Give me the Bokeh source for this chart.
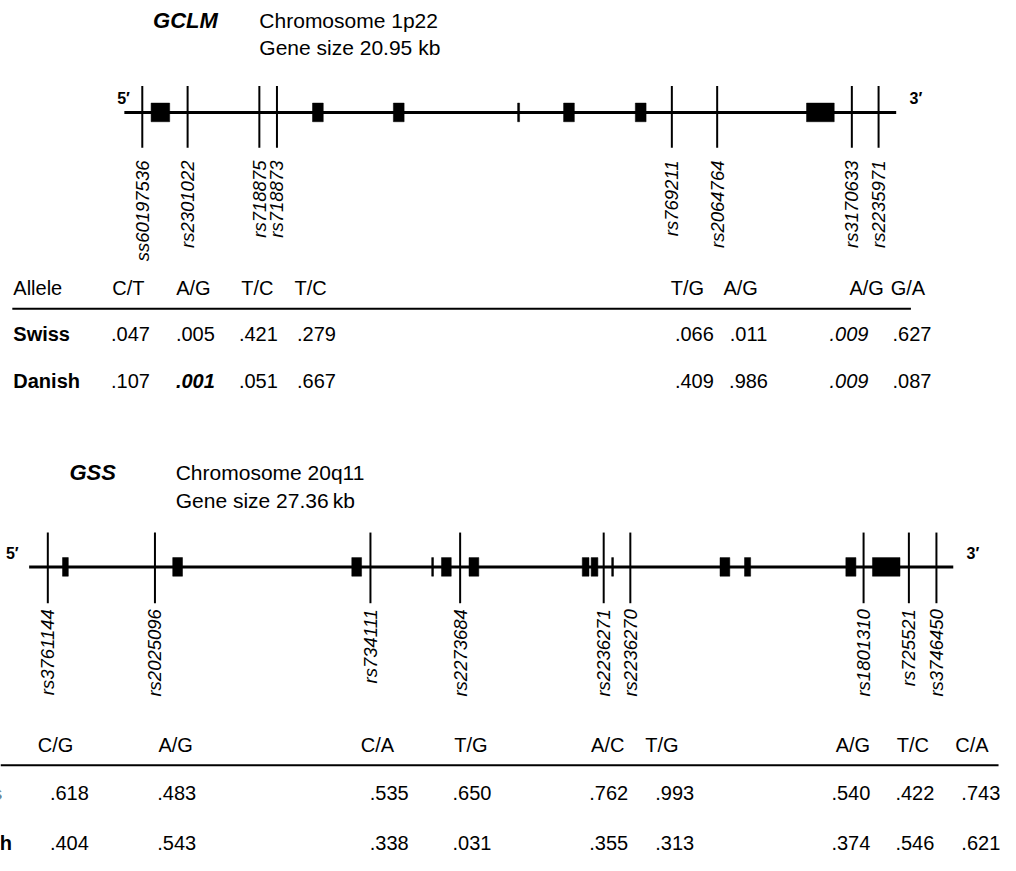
import math
from bokeh.plotting import figure
from bokeh.models import Range1d, ColumnDataSource
from bokeh.layouts import column
from bokeh.embed import file_html
from bokeh.resources import INLINE
from bokeh.core.properties import value

FONT = "Liberation Sans"

# ---------------- GCLM data ----------------
gclm_name = "GCLM"
gclm_chrom = "Chromosome 1p22"
gclm_size = "Gene size 20.95 kb"
gclm_snps = ["ss60197536", "rs2301022", "rs718875", "rs718873",
             "rs769211", "rs2064764", "rs3170633", "rs2235971"]
gclm_snp_kb = [-0.27, 1.12, 3.32, 3.86, 15.97, 17.36, 21.49, 22.31]
gclm_exon_start_kb = [0.00, 4.95, 7.43, 11.24, 12.65, 14.85, 20.10]
gclm_exon_end_kb = [0.57, 5.28, 7.76, 11.30, 12.98, 15.18, 20.95]
gclm_line_kb = [-0.82, 22.85]
gclm_alleles = ["C/T", "A/G", "T/C", "T/C", "T/G", "A/G", "A/G", "G/A"]
gclm_swiss = [0.047, 0.005, 0.421, 0.279, 0.066, 0.011, 0.009, 0.627]
gclm_danish = [0.107, 0.001, 0.051, 0.667, 0.409, 0.986, 0.009, 0.087]
gclm_italic_cols = [6]          # .009 values shown in italics
gclm_bold_danish_cols = [1]     # .001 shown in bold italics

# ---------------- GSS data ----------------
gss_name = "GSS"
gss_chrom = "Chromosome 20q11"
gss_size = "Gene size 27.36\u2009kb"
gss_snps = ["rs3761144", "rs2025096", "rs734111", "rs2273684", "rs2236271",
            "rs2236270", "rs1801310", "rs725521", "rs3746450"]
gss_snp_kb = [-0.48, 3.02, 10.06, 12.99, 17.68, 18.55, 26.17, 27.65, 28.55]
gss_exon_start_kb = [0.00, 3.60, 9.45, 12.06, 12.38, 13.28, 16.98, 17.27, 17.94,
                     21.48, 22.28, 25.59, 26.46]
gss_exon_end_kb = [0.19, 3.92, 9.77, 12.12, 12.70, 13.60, 17.20, 17.49, 18.00,
                   21.80, 22.48, 25.92, 27.36]
gss_line_kb = [-1.09, 29.10]
gss_alleles = ["C/G", "A/G", "C/A", "T/G", "A/C", "T/G", "A/G", "T/C", "C/A"]
gss_swiss = [0.618, 0.483, 0.535, 0.650, 0.762, 0.993, 0.540, 0.422, 0.743]
gss_danish = [0.404, 0.543, 0.338, 0.031, 0.355, 0.313, 0.374, 0.546, 0.621]

populations = ["Swiss", "Danish"]


def fmt(v):
    return f"{v:.3f}".lstrip("0")


def make_panel(cfg):
    org, scale = cfg["origin_px"], cfg["px_per_kb"]
    kb = lambda px: (px - org) / scale
    p = figure(width=1000, height=cfg["height"],
               x_range=Range1d(kb(0), kb(1016)),
               y_range=Range1d(cfg["y_end"], cfg["y_start"]),
               output_backend="svg", toolbar_location=None,
               min_border=0, tools="")
    p.axis.visible = False
    p.grid.visible = False
    p.outline_line_color = None
    p.background_fill_color = "white"
    p.border_fill_color = "white"

    gy = cfg["gene_y"]
    # gene backbone
    p.segment(x0=[cfg["line"][0]], y0=[gy], x1=[cfg["line"][1]], y1=[gy],
              line_width=3, line_color="black")
    # exons
    p.quad(left=cfg["exs"], right=cfg["exe"],
           top=[gy - 9.5] * len(cfg["exs"]), bottom=[gy + 9.5] * len(cfg["exs"]),
           fill_color="black", line_color="black", line_width=0.5)
    # SNP markers
    n = len(cfg["snps"])
    p.segment(x0=cfg["snp_kb"], y0=[gy - cfg["up"]] * n,
              x1=cfg["snp_kb"], y1=[gy + cfg["down"]] * n,
              line_width=2, line_color="black")
    p.text(x=cfg["snp_kb"], y=[cfg["label_top"]] * n, text=cfg["snps"],
           angle=math.pi / 2, text_align="right", text_baseline="middle",
           text_font=value(FONT), text_font_style="italic",
           text_font_size="18.5px", text_color="black")
    # 5' / 3'
    p.text(x=[kb(cfg["five_px"]), kb(cfg["three_px"])],
           y=[cfg["prime_y"], cfg["prime_y"]], text=["5\u2032", "3\u2032"],
           text_align="center", text_baseline="middle",
           text_font=value(FONT), text_font_style="bold",
           text_font_size="16px", text_color="black")
    # titles
    p.text(x=[kb(cfg["name_px"])], y=[cfg["title_y"]], text=[cfg["name"]],
           text_align="left", text_baseline="middle", text_font=value(FONT),
           text_font_style="bold italic", text_font_size="22px", text_color="black")
    p.text(x=[kb(cfg["chrom_px"])] * 2, y=[cfg["title_y"], cfg["title_y"] + 28],
           text=[cfg["chrom"], cfg["size"]], text_align="left",
           text_baseline="middle", text_font=value(FONT),
           text_font_size="21px", text_color="black")

    # table
    hx = [kb(v) for v in cfg["head_px"]]
    vx = [kb(v) for v in cfg["val_px"]]
    hy, ry = cfg["head_y"], cfg["row_y"]
    lab_x = kb(cfg["rowlab_px"])
    if cfg.get("show_allele", True):
        p.text(x=[lab_x], y=[hy], text=["Allele"], text_align="left",
               text_baseline="middle", text_font=value(FONT),
               text_font_size="20px", text_color="black")
    p.text(x=hx, y=[hy] * len(hx), text=cfg["alleles"], text_align="center",
           text_baseline="middle", text_font=value(FONT),
           text_font_size="20px", text_color="black")
    p.segment(x0=[kb(cfg["rule_px"][0])], y0=[cfg["rule_y"]],
              x1=[kb(cfg["rule_px"][1])], y1=[cfg["rule_y"]],
              line_width=2, line_color="black")
    p.text(x=[lab_x, lab_x], y=ry, text=populations, text_align="left",
           text_baseline="middle", text_font=value(FONT), text_font_style="bold",
           text_font_size="20px", text_color="black")
    for r, vals in enumerate(cfg["rows"]):
        styles = []
        for c in range(len(vals)):
            if c in cfg.get("bold_cols", {}).get(r, []):
                styles.append("bold italic")
            elif c in cfg.get("italic_cols", []):
                styles.append("italic")
            else:
                styles.append("normal")
        src = ColumnDataSource(dict(x=vx, y=[ry[r]] * len(vx),
                                    t=[fmt(v) for v in vals], s=styles))
        p.text(x="x", y="y", text="t", text_font_style="s", source=src,
               text_align="center", text_baseline="middle",
               text_font=value(FONT), text_font_size="20px", text_color="black")
    return p


top = make_panel(dict(
    origin_px=153, px_per_kb=33.13, height=428, y_start=0, y_end=436,
    gene_y=114, up=27, down=36, label_top=163,
    snps=gclm_snps, snp_kb=gclm_snp_kb, exs=gclm_exon_start_kb, exe=gclm_exon_end_kb,
    line=gclm_line_kb, five_px=125, three_px=930, prime_y=100,
    name=gclm_name, chrom=gclm_chrom, size=gclm_size,
    name_px=155, chrom_px=263, title_y=20,
    head_px=[130, 196, 261, 315, 698, 752, 880, 922],
    val_px=[132, 198, 262, 321, 705, 760, 862, 926],
    alleles=gclm_alleles, rowlab_px=13, head_y=293, row_y=[340, 388],
    rule_px=[12, 925], rule_y=314,
    rows=[gclm_swiss, gclm_danish], italic_cols=gclm_italic_cols,
    bold_cols={1: gclm_bold_danish_cols},
))

bottom = make_panel(dict(
    origin_px=63, px_per_kb=31.1, height=427, y_start=436, y_end=871,
    gene_y=577, up=35, down=37, label_top=620,
    snps=gss_snps, snp_kb=gss_snp_kb, exs=gss_exon_start_kb, exe=gss_exon_end_kb,
    line=gss_line_kb, five_px=12, three_px=988, prime_y=563,
    name=gss_name, chrom=gss_chrom, size=gss_size,
    name_px=70, chrom_px=178, title_y=481,
    head_px=[56, 178, 383, 478, 617, 672, 866, 927, 987],
    val_px=[70, 179, 395, 479, 618, 685, 864, 929, 996],
    alleles=gss_alleles, rowlab_px=-56, head_y=758, row_y=[807, 858],
    rule_px=[0, 1014], rule_y=779, show_allele=False,
    rows=[gss_swiss, gss_danish],
))

layout = column(top, bottom, spacing=0)
open("out.html", "w").write(file_html(layout, INLINE))
